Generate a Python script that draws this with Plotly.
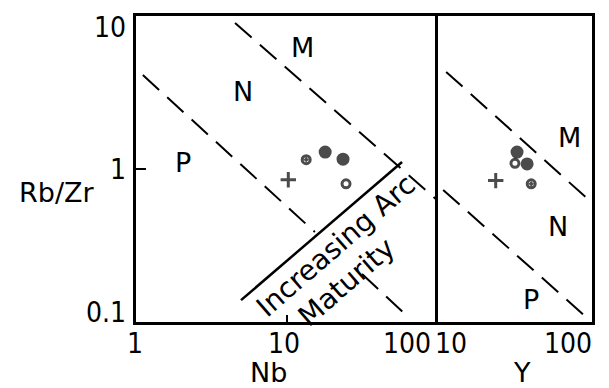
import math
import plotly.graph_objects as go

# ---- data ----
# samples: Rb/Zr vs Nb (left panel)
nb_vals = [10.2, 13.4, 17.9, 23.5, 24.6]
rbzr_nb = [0.85, 1.15, 1.29, 1.16, 0.80]
sym_nb = ["cross-thin", "circle-open-dot", "circle", "circle", "circle-open"]
size_nb = [11, 8, 10, 10, 8]

# samples: Rb/Zr vs Y (right panel)
y_vals = [23.7, 31.6, 32.6, 37.9, 40.3]
rbzr_y = [0.84, 1.09, 1.29, 1.08, 0.80]
sym_y = ["cross-thin", "circle-open", "circle", "circle", "circle-open-dot"]
size_y = [11, 8, 10, 10, 8]

# field boundaries (dashed), Nb panel
pn_nb_a_x = [1.11, 15.3]
pn_nb_a_y = [4.11, 0.387]
pn_nb_b_x = [31.4, 65.3]
pn_nb_b_y = [0.206, 0.105]
nm_nb_x = [4.53, 100]
nm_nb_y = [9.0, 0.618]
# arc maturity line (solid)
arc_x = [4.96, 57.8]
arc_y = [0.139, 1.11]

# field boundaries (dashed), Y panel
nm_y_x = [11.3, 95.5]
nm_y_y = [4.31, 0.627]
pn_y_x = [10.8, 91.4]
pn_y_y = [0.73, 0.108]

# field labels
fields_nb = [("M", 12.6, 6.2), ("N", 5.1, 3.2), ("P", 2.05, 1.11)]
fields_y = [("M", 71.6, 1.6), ("N", 59.7, 0.42), ("P", 40.3, 0.14)]

# tick labels (value, text, pixel shift)
xticks_nb = [(1, "1", -1), (10, "10", -3), (100, "100", -31)]
xticks_y = [(10, "10", 13), (100, "100", -24)]
yticks = [(10, "10", -11), (1, "1", 0), (0.1, "0.1", 10)]

NUM_FONT = "Liberation Sans Narrow, DejaVu Sans Condensed, Arial Narrow, sans-serif"
TXT_FONT = "DejaVu Sans, sans-serif"
BLACK = "black"

fig = go.Figure()

dash = "22px,11px"
for xs, ys in [(pn_nb_a_x, pn_nb_a_y), (pn_nb_b_x, pn_nb_b_y), (nm_nb_x, nm_nb_y)]:
    fig.add_trace(go.Scatter(x=xs, y=ys, mode="lines", xaxis="x", yaxis="y",
                             line=dict(color=BLACK, width=2, dash=dash), hoverinfo="skip"))
fig.add_trace(go.Scatter(x=arc_x, y=arc_y, mode="lines", xaxis="x", yaxis="y",
                         line=dict(color=BLACK, width=2.5), hoverinfo="skip"))
for xs, ys in [(nm_y_x, nm_y_y), (pn_y_x, pn_y_y)]:
    fig.add_trace(go.Scatter(x=xs, y=ys, mode="lines", xaxis="x2", yaxis="y2",
                             line=dict(color=BLACK, width=2, dash=dash), hoverinfo="skip"))

fig.add_trace(go.Scatter(x=nb_vals, y=rbzr_nb, mode="markers", xaxis="x", yaxis="y",
                         marker=dict(symbol=sym_nb, size=size_nb, color=BLACK,
                                     line=dict(color=BLACK, width=3))))
fig.add_trace(go.Scatter(x=y_vals, y=rbzr_y, mode="markers", xaxis="x2", yaxis="y2",
                         marker=dict(symbol=sym_y, size=size_y, color=BLACK,
                                     line=dict(color=BLACK, width=3))))

split = 302 / 456
axis_common = dict(type="log", showline=True, linecolor=BLACK, linewidth=2.5,
                   showgrid=False, zeroline=False, showticklabels=False)
fig.update_layout(
    width=609, height=388,
    margin=dict(l=136, r=17, t=16, b=66),
    paper_bgcolor="white", plot_bgcolor="white", showlegend=False,
    xaxis=dict(domain=[0, split], range=[0, 2], anchor="y", ticks="inside", tickvals=[10],
               ticklen=7, tickwidth=2, tickcolor=BLACK, mirror=True, **axis_common),
    xaxis2=dict(domain=[split, 1], range=[1, 2], anchor="y2", ticks="", tickvals=[],
                mirror=True, **axis_common),
    yaxis=dict(domain=[0, 1], range=[-1, 1], anchor="x", ticks="inside", tickvals=[1],
               ticklen=10, tickwidth=2, tickcolor=BLACK, mirror=False, **axis_common),
    yaxis2=dict(domain=[0, 1], range=[-1, 1], anchor="x2", matches="y", ticks="", tickvals=[],
                mirror=True, **axis_common),
)

ann = []


def add(text, x, y, xref, yref, size, family, **kw):
    d = dict(text=text, x=x, y=y, xref=xref, yref=yref, showarrow=False,
             xanchor="center", yanchor="middle",
             font=dict(family=family, size=size, color=BLACK))
    d.update(kw)
    ann.append(d)


for lab, xv, yv in fields_nb:
    add(lab, math.log10(xv), math.log10(yv), "x", "y", 27, TXT_FONT)
for lab, xv, yv in fields_y:
    add(lab, math.log10(xv), math.log10(yv), "x2", "y2", 27, TXT_FONT)

add("Increasing Arc", math.log10(21.1), math.log10(0.318), "x", "y", 28, TXT_FONT, textangle=-41)
add("Maturity", math.log10(24.6), math.log10(0.182), "x", "y", 28, TXT_FONT, textangle=-41)

for v, lab, sh in xticks_nb:
    add(lab, math.log10(v), -21 / 306, "x", "paper", 28, NUM_FONT, xshift=sh)
for v, lab, sh in xticks_y:
    add(lab, math.log10(v), -21 / 306, "x2", "paper", 28, NUM_FONT, xshift=sh)
for v, lab, sh in yticks:
    add(lab, 0, math.log10(v), "paper", "y", 28, NUM_FONT, xanchor="right", xshift=-8, yshift=sh)

add("Rb/Zr", (56 - 136) / 456, (322 - 193) / 306, "paper", "paper", 27, TXT_FONT)
add("Nb", (268 - 136) / 456, (322 - 372) / 306, "paper", "paper", 27, TXT_FONT)
add("Y", (522 - 136) / 456, (322 - 372) / 306, "paper", "paper", 27, TXT_FONT)

fig.update_layout(annotations=ann)
fig.write_html("out.html")
